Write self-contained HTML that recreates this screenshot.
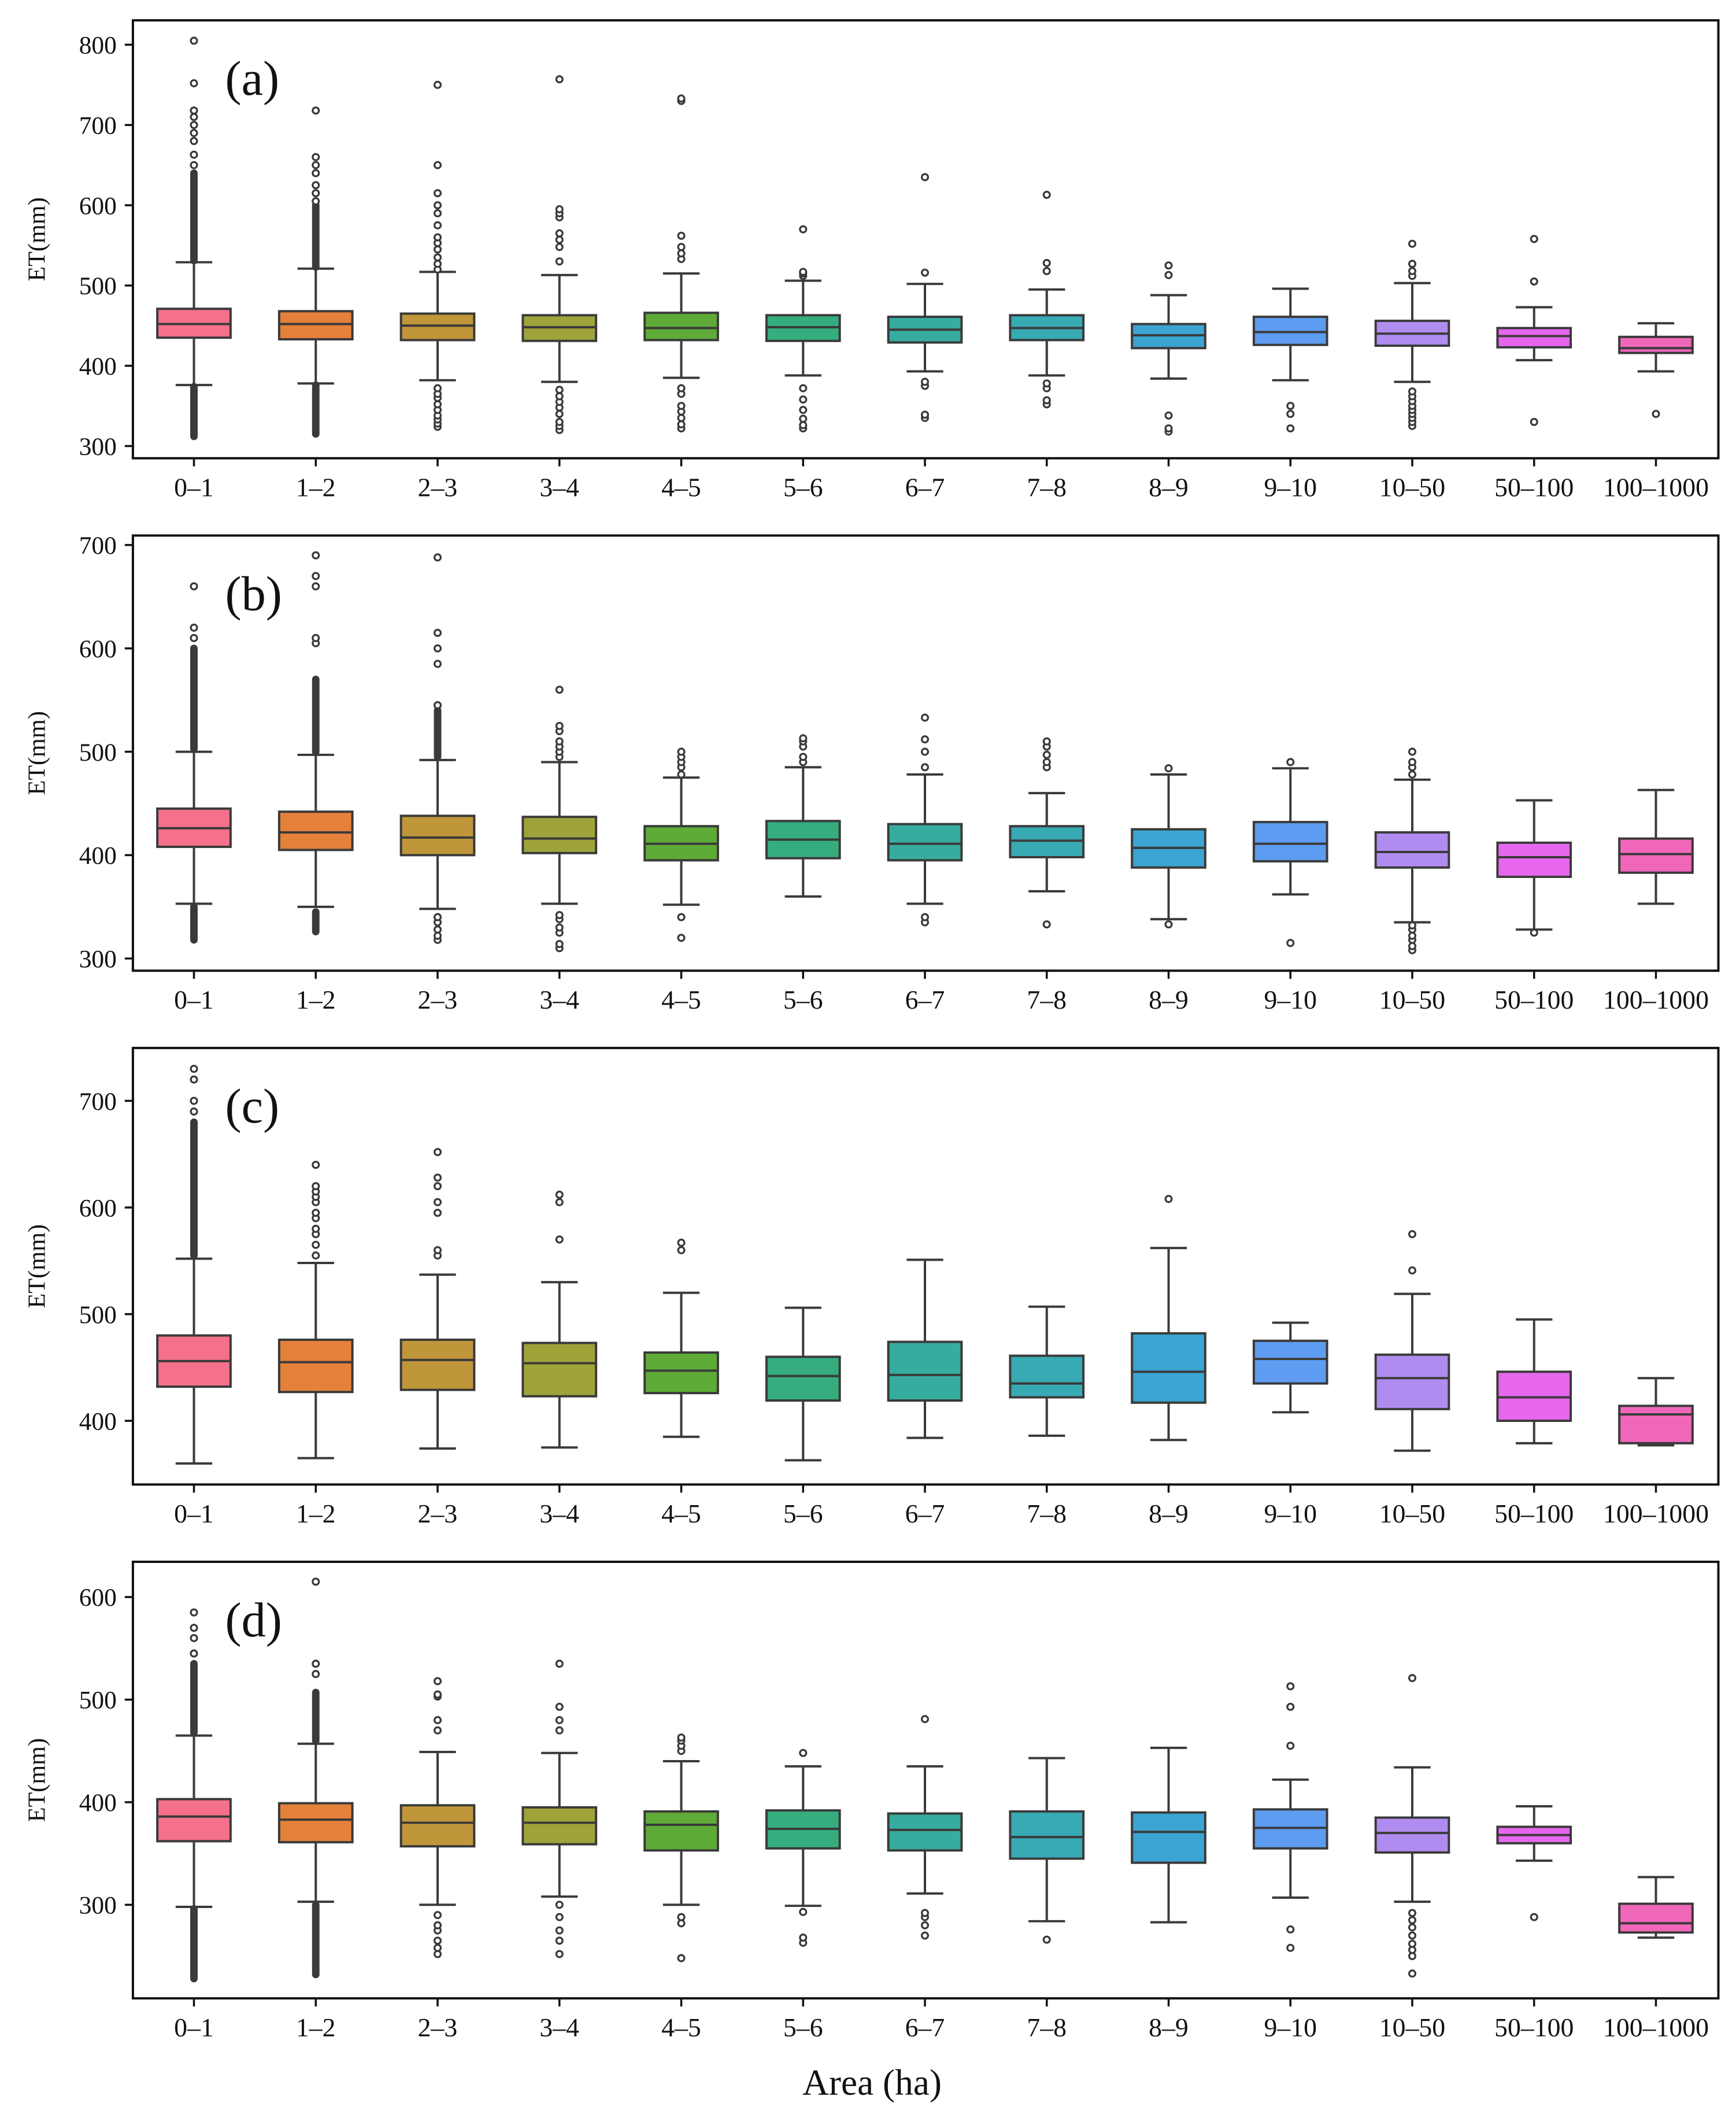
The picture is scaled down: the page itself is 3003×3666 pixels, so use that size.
<!DOCTYPE html>
<html><head><meta charset="utf-8"><style>
html,body{margin:0;padding:0;background:#fff}
svg{display:block}
text{font-family:"Liberation Serif",serif;fill:#111}
</style></head><body>
<svg id="chart" xmlns="http://www.w3.org/2000/svg" width="3003" height="3666" viewBox="0 0 1280 1563" preserveAspectRatio="none">
<text x="643" y="1545" font-size="27" text-anchor="middle">Area (ha)</text>
</svg>
<script>
const categories = ["0\u20131","1\u20132","2\u20133","3\u20134","4\u20135","5\u20136","6\u20137","7\u20138","8\u20139","9\u201310","10\u201350","50\u2013100","100\u20131000"];
const colors = ["#f5708a","#e5813a","#c0963a","#9ea33a","#5eab38","#35ad7e","#36ac9f","#38aab4","#3ba4d2","#5d9cf0","#b08cf0","#e667ee","#f067ba"];
const panelLabels = ["(a)","(b)","(c)","(d)"];
const yTicks_a = [300,400,500,600,700,800];
const yTicks_b = [300,400,500,600,700];
const yTicks_c = [400,500,600,700];
const yTicks_d = [300,400,500,600];

const whiskLo_a = [376,378,382,380,385,388,393,388,384,382,380,407,393];
const q1_a      = [435,433,432,431,432,431,429,432,422,426,425,423,416];
const med_a     = [452,452,450,448,447,448,445,447,438,442,440,437,422];
const q3_a      = [471,468,465,463,466,463,461,463,452,461,456,447,436];
const whiskHi_a = [529,521,517,513,515,506,502,495,488,496,503,473,453];
const outliers_a = [
 [650,663,680,690,700,710,718,752,805],
 [605,615,625,640,650,660,718],
 [324,328,333,338,345,352,360,365,372,520,527,535,545,553,560,575,590,600,615,650,750],
 [320,325,330,340,348,355,362,370,530,548,557,565,585,590,595,757],
 [322,327,335,343,350,365,372,533,540,548,562,730,733],
 [322,326,334,345,358,372,512,515,517,570],
 [335,339,375,380,516,635],
 [352,357,372,378,518,528,613],
 [318,322,338,513,525],
 [322,340,350],
 [325,330,335,340,345,350,356,362,368,512,518,527,552],
 [330,505,558],
 [340]];
const dense_a = [[[312,374],[531,640]],[[315,376],[523,600]],[],[],[],[],[],[],[],[],[],[],[]];

const whiskLo_b = [353,350,348,353,352,360,353,365,338,362,335,328,353];
const q1_b      = [408,405,400,402,395,397,395,398,388,394,388,379,383];
const med_b     = [426,422,417,416,411,415,411,414,407,411,403,398,401];
const q3_b      = [445,442,438,437,428,433,430,428,425,432,422,412,416];
const whiskHi_b = [500,497,492,490,475,485,478,460,478,484,473,453,463];
const outliers_b = [
 [610,620,660],
 [605,610,660,670,690],
 [318,322,328,335,340,545,585,600,615,688],
 [310,314,325,330,338,342,495,500,505,510,520,525,560],
 [320,340,478,485,490,495,500],
 [490,495,505,510,513],
 [335,340,485,500,512,533],
 [333,485,490,497,505,510],
 [333,484],
 [315,490],
 [308,312,318,322,328,332,478,485,490,500],
 [325],
 []];
const dense_b = [[[318,350],[503,600]],[[326,345],[500,570]],[[495,540]],[],[],[],[],[],[],[],[],[],[]];

const whiskLo_c = [360,365,374,375,385,363,384,386,382,408,372,379,377];
const q1_c      = [432,427,429,423,426,419,419,422,417,435,411,400,379];
const med_c     = [456,455,457,454,447,442,443,435,446,458,440,422,406];
const q3_c      = [480,476,476,473,464,460,474,461,482,475,462,446,414];
const whiskHi_c = [552,548,537,530,520,506,551,507,562,492,519,495,440];
const outliers_c = [
 [690,700,720,730],
 [555,565,575,580,590,595,605,610,615,620,640],
 [555,560,595,605,620,628,652],
 [570,605,612],
 [560,567],
 [],[],[],
 [608],
 [],
 [541,575],
 [],[]];
const dense_c = [[[555,680]],[],[],[],[],[],[],[],[],[],[],[],[]];

const whiskLo_d = [298,303,300,308,300,299,311,284,283,307,303,343,268];
const q1_d      = [362,361,357,359,353,355,353,345,341,355,351,360,273];
const med_d     = [386,383,380,380,378,374,373,366,371,375,370,368,282];
const q3_d      = [403,399,397,395,391,392,389,391,390,393,385,376,301];
const whiskHi_d = [465,457,449,448,440,435,435,443,453,422,434,396,327];
const outliers_d = [
 [545,560,570,585],
 [525,535,615],
 [252,258,265,275,280,290,470,480,503,505,518],
 [252,265,275,288,300,470,480,493,535],
 [248,282,288,450,455,460,463],
 [263,268,293,448],
 [270,280,288,292,481],
 [266],
 [],
 [258,276,455,493,513],
 [233,250,256,262,270,278,285,292,521],
 [288],
 []];
const dense_d = [[[228,296],[468,535]],[[232,300],[460,507]],[],[],[],[],[],[],[],[],[],[],[]];

const panels = [
 {top:15,bottom:338,y0:33,v0:800,y1:329,v1:300,ticks:yTicks_a,lo:whiskLo_a,q1:q1_a,med:med_a,q3:q3_a,hi:whiskHi_a,out:outliers_a,dense:dense_a},
 {top:395,bottom:716,y0:402,v0:700,y1:707,v1:300,ticks:yTicks_b,lo:whiskLo_b,q1:q1_b,med:med_b,q3:q3_b,hi:whiskHi_b,out:outliers_b,dense:dense_b},
 {top:773,bottom:1095,y0:812,v0:700,y1:1048,v1:400,ticks:yTicks_c,lo:whiskLo_c,q1:q1_c,med:med_c,q3:q3_c,hi:whiskHi_c,out:outliers_c,dense:dense_c},
 {top:1152,bottom:1474,y0:1178,v0:600,y1:1405,v1:300,ticks:yTicks_d,lo:whiskLo_d,q1:q1_d,med:med_d,q3:q3_d,hi:whiskHi_d,out:outliers_d,dense:dense_d}
];

const svg = document.getElementById('chart');
const NS = 'http://www.w3.org/2000/svg';
const LEFT = 98, RIGHT = 1267, X0 = 143, STEP = 89.83, BW = 54;
const LC = '#3a3a3a', LW = 1.7;
function mk(tag, attrs, parent){ const e=document.createElementNS(NS,tag); for(const k in attrs) e.setAttribute(k,attrs[k]); (parent||svg).appendChild(e); return e; }
function xScale(i){ return X0 + i*STEP; }

panels.forEach((p,pi)=>{
  const yS = v => p.y0 + (v - p.v0)*(p.y1 - p.y0)/(p.v1 - p.v0);
  const g = mk('g',{});
  
  
  p.ticks.forEach(t=>{
    const y = yS(t);
    const l = mk('line',{x1:LEFT-6,x2:LEFT,y1:y,y2:y,stroke:'#111','stroke-width':1.5},g);
    
    
    const tx = mk('text',{x:LEFT-12,y:y+6.5,'font-size':18.5,'text-anchor':'end'},g);
    
    
    tx.textContent = t;
  });
  const yl = mk('text',{x:0,y:0,'font-size':18,'text-anchor':'middle',transform:`translate(33,${(p.top+p.bottom)/2}) rotate(-90)`},g);
  
  
  yl.textContent = 'ET(mm)';
  categories.forEach((c,i)=>{
    const x = xScale(i);
    const l = mk('line',{x1:x,x2:x,y1:p.bottom,y2:p.bottom+6,stroke:'#111','stroke-width':1.5},g);
    
    
    const tx = mk('text',{x:x,y:p.bottom+28,'font-size':19.5,'text-anchor':'middle'},g);
    
    
    tx.textContent = c;
  });
  categories.forEach((c,i)=>{
    const x = xScale(i);
    const bg = mk('g',{},g);
    
    
    mk('line',{x1:x,x2:x,y1:yS(p.hi[i]),y2:yS(p.q3[i]),stroke:LC,'stroke-width':LW},bg);
    mk('line',{x1:x,x2:x,y1:yS(p.q1[i]),y2:yS(p.lo[i]),stroke:LC,'stroke-width':LW},bg);
    mk('line',{x1:x-BW/4,x2:x+BW/4,y1:yS(p.hi[i]),y2:yS(p.hi[i]),stroke:LC,'stroke-width':LW},bg);
    mk('line',{x1:x-BW/4,x2:x+BW/4,y1:yS(p.lo[i]),y2:yS(p.lo[i]),stroke:LC,'stroke-width':LW},bg);
    mk('rect',{x:x-BW/2,y:yS(p.q3[i]),width:BW,height:yS(p.q1[i])-yS(p.q3[i]),fill:colors[i],stroke:LC,'stroke-width':LW},bg);
    mk('line',{x1:x-BW/2,x2:x+BW/2,y1:yS(p.med[i]),y2:yS(p.med[i]),stroke:LC,'stroke-width':LW},bg);
    p.dense[i].forEach(r=>{
      const d = mk('line',{x1:x,x2:x,y1:yS(r[0]),y2:yS(r[1]),stroke:LC,'stroke-width':5.5,'stroke-linecap':'round'},bg);
      
      
    });
    p.out[i].forEach(v=>{
      const o = mk('circle',{cx:x,cy:yS(v),r:2.3,fill:'#fff',stroke:LC,'stroke-width':1.4},bg);
      
      
    });
  });
  const f = mk('rect',{x:LEFT,y:p.top,width:RIGHT-LEFT,height:p.bottom-p.top,fill:'none',stroke:'#111','stroke-width':1.7},g);
  
  
  const pl = mk('text',{x:166,y:p.top+55,'font-size':36,'text-anchor':'start'},g);
  
  
  pl.textContent = panelLabels[pi];
});
</script>
</body></html>
